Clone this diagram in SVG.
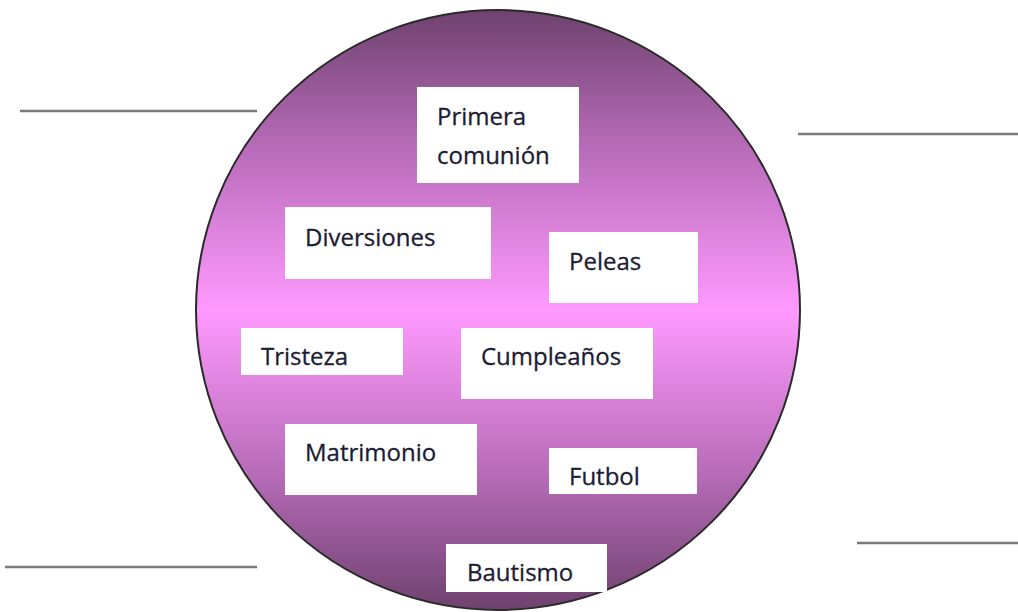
<svg xmlns="http://www.w3.org/2000/svg" width="1018" height="612" viewBox="0 0 1018 612">
<style>
.box{fill:#ffffff;}
.lbl{font-family:"Open Sans","Liberation Sans",sans-serif;font-size:24px;fill:#1c1c34;stroke:#1c1c34;stroke-width:0.3;}
.blank{stroke:#7a7a7a;stroke-width:2.5;fill:none;}
</style>
<defs>
<linearGradient id="g" x1="0" y1="0" x2="0" y2="1">
<stop offset="0" stop-color="#6e426e"/>
<stop offset="0.22" stop-color="#b56ab6"/>
<stop offset="0.5" stop-color="#ff99ff"/>
<stop offset="0.78" stop-color="#b56ab6"/>
<stop offset="1" stop-color="#6e426e"/>
</linearGradient>
</defs>
<rect width="1018" height="612" fill="#ffffff"/>
<g id="circle">
<ellipse cx="498" cy="310" rx="302" ry="300" fill="url(#g)" stroke="#2a2a2a" stroke-width="2"/>
</g>
<g id="blanks">
<line class="blank" x1="20" y1="111" x2="257" y2="111"/>
<line class="blank" x1="798" y1="134" x2="1018" y2="134"/>
<line class="blank" x1="5" y1="567" x2="257" y2="567"/>
<line class="blank" x1="857" y1="543" x2="1018" y2="543"/>
</g>
<g id="primera"><rect class="box" x="417" y="87" width="162" height="96"/><text class="lbl" x="437" y="125">Primera</text><text class="lbl" x="437" y="164">comunión</text></g>
<g id="diversiones"><rect class="box" x="285" y="207" width="206" height="72"/><text class="lbl" x="305" y="246">Diversiones</text></g>
<g id="peleas"><rect class="box" x="549" y="232" width="149" height="71"/><text class="lbl" x="569" y="270">Peleas</text></g>
<g id="tristeza"><rect class="box" x="241" y="328" width="162" height="47"/><text class="lbl" x="261" y="365">Tristeza</text></g>
<g id="cumpleanos"><rect class="box" x="461" y="328" width="192" height="71"/><text class="lbl" x="481" y="365">Cumpleaños</text></g>
<g id="matrimonio"><rect class="box" x="285" y="424" width="192" height="71"/><text class="lbl" x="305" y="461">Matrimonio</text></g>
<g id="futbol"><rect class="box" x="549" y="448" width="148" height="46"/><text class="lbl" x="569" y="485">Futbol</text></g>
<g id="bautismo"><rect class="box" x="446" y="544" width="161" height="48"/><text class="lbl" x="467" y="581">Bautismo</text></g>
</svg>
